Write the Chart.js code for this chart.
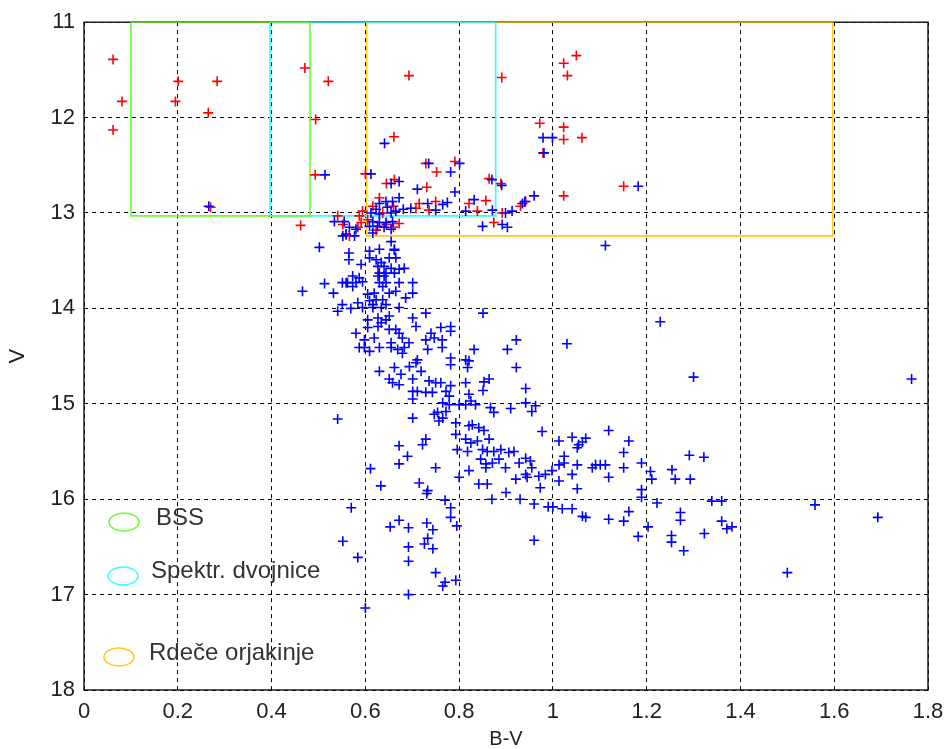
<!DOCTYPE html>
<html>
<head>
<meta charset="utf-8">
<script src="https://cdn.jsdelivr.net/npm/chart.js@4.4.1/dist/chart.umd.min.js"></script>
<style>
  body { margin: 0; background: #fff; }
  #cmd { display: block; }
</style>
</head>
<body>
<canvas id="cmd" width="946" height="749"></canvas>
<script>
var xTickLabels = ["0", "0.2", "0.4", "0.6", "0.8", "1", "1.2", "1.4", "1.6", "1.8"];
var yTickLabels = ["11", "12", "13", "14", "15", "16", "17", "18"];

// selected region boxes: [B-V from, B-V to, V top, V bottom]
var bssBox = [0.1, 0.482, 11, 13.03];
var spektrBox = [0.397, 0.878, 11, 13.03];
var giantBox = [0.603, 1.597, 11, 13.24];

var legendLabels = ["BSS", "Spektr. dvojnice", "Rdeče orjakinje"];
var legendColors = ["#66ff33", "#33ffff", "#ffcc11"];

// red stars [B-V, V]
var redStars = [
  [0.062, 11.39], [0.081, 11.83], [0.062, 12.13], [0.201, 11.62], [0.195, 11.83], [0.284, 11.62],
  [0.265, 11.95], [0.27, 12.94], [0.471, 11.48], [0.521, 11.62], [0.494, 12.02], [0.493, 12.6],
  [0.462, 13.13], [0.661, 12.2], [0.693, 11.56], [0.891, 11.58], [1.023, 11.43], [1.05, 11.35],
  [1.031, 11.56], [0.972, 12.06], [1.023, 12.1], [1.023, 12.23], [1.062, 12.21], [0.979, 12.37],
  [1.151, 12.72], [1.023, 12.82], [0.729, 12.48], [0.752, 12.57], [0.791, 12.46], [0.731, 12.73],
  [0.645, 12.69], [0.6, 12.59], [0.864, 12.64], [0.889, 12.69], [0.857, 12.87], [0.821, 12.9],
  [0.839, 12.98], [0.892, 13.0], [0.931, 12.93], [0.874, 13.1], [0.715, 12.9], [0.75, 12.88],
  [0.736, 12.97], [0.708, 12.95], [0.63, 12.84], [0.66, 12.93], [0.616, 12.93], [0.637, 13.0],
  [0.672, 13.11], [0.66, 13.15], [0.623, 13.18], [0.605, 13.07], [0.594, 12.98], [0.552, 13.12],
  [0.566, 13.24], [0.591, 13.1], [0.584, 13.15], [0.587, 13.03], [0.559, 13.23], [0.541, 13.03],
  [0.662, 12.65], [0.645, 13.12], [0.942, 12.88]
];

// blue stars [B-V, V]
var blueStars = [
  [0.266, 12.93], [0.514, 12.6], [0.641, 12.27], [0.979, 12.21], [0.999, 12.21], [0.981, 12.37],
  [1.182, 12.72], [1.112, 13.34],
  [0.655, 12.69], [0.672, 12.67], [0.612, 12.59], [0.711, 12.75], [0.782, 12.57], [0.801, 12.48],
  [0.791, 12.78], [0.87, 12.65], [0.832, 12.86], [0.814, 12.98], [0.871, 12.97], [0.899, 13.0],
  [0.913, 12.98], [0.935, 12.9], [0.94, 12.88], [0.85, 13.14], [0.892, 13.12], [0.903, 13.15],
  [0.733, 12.9], [0.765, 12.91], [0.775, 12.89], [0.75, 12.97], [0.697, 12.95], [0.681, 12.96],
  [0.655, 13.3], [0.735, 12.48], [0.891, 12.71], [0.96, 12.82], [0.662, 13.39],
  [0.63, 12.9], [0.644, 12.88], [0.658, 12.88], [0.672, 12.84], [0.647, 12.94], [0.623, 12.96],
  [0.612, 13.0], [0.63, 13.01], [0.655, 13.0], [0.665, 12.98], [0.616, 13.09], [0.63, 13.1],
  [0.644, 13.1], [0.658, 13.09], [0.609, 13.14], [0.626, 13.14], [0.64, 13.15], [0.655, 13.17],
  [0.616, 13.21], [0.534, 13.09], [0.555, 13.09], [0.566, 13.15], [0.58, 13.17], [0.559, 13.22],
  [0.577, 13.24], [0.552, 13.24],
  [0.502, 13.36], [0.513, 13.74], [0.466, 13.82], [0.532, 13.84], [0.541, 14.03], [0.551, 13.96],
  [0.551, 13.73], [0.559, 13.73],
  [0.565, 13.42], [0.609, 13.4], [0.63, 13.38], [0.662, 13.38], [0.565, 13.49], [0.609, 13.47],
  [0.623, 13.49], [0.634, 13.52], [0.651, 13.47], [0.665, 13.47], [0.591, 13.54], [0.627, 13.56],
  [0.64, 13.56], [0.655, 13.58], [0.672, 13.59], [0.683, 13.58], [0.63, 13.63], [0.644, 13.63],
  [0.662, 13.63], [0.573, 13.66], [0.587, 13.68], [0.627, 13.66], [0.64, 13.66], [0.562, 13.73],
  [0.58, 13.73], [0.594, 13.72], [0.63, 13.73], [0.644, 13.73], [0.672, 13.73], [0.701, 13.73],
  [0.637, 13.77], [0.573, 13.77], [0.605, 13.85], [0.619, 13.84], [0.651, 13.84], [0.665, 13.82],
  [0.701, 13.84], [0.686, 13.89], [0.609, 13.92], [0.623, 13.91], [0.637, 13.91], [0.644, 13.96],
  [0.616, 13.96], [0.584, 13.94], [0.594, 13.99], [0.616, 13.99], [0.634, 13.99], [0.672, 13.99],
  [0.729, 14.05], [0.569, 14.0], [0.605, 14.12], [0.627, 14.1], [0.644, 14.12], [0.651, 14.08],
  [0.634, 14.15], [0.701, 14.1], [0.761, 14.2], [0.782, 14.19], [0.605, 14.2], [0.627, 14.19],
  [0.651, 14.22], [0.665, 14.22], [0.58, 14.26], [0.672, 14.26], [0.708, 14.19], [0.74, 14.26],
  [0.747, 14.31], [0.764, 14.33], [0.782, 14.24], [0.598, 14.33], [0.619, 14.31], [0.679, 14.31],
  [0.693, 14.36], [0.729, 14.33], [0.655, 14.36], [0.587, 14.41], [0.598, 14.41], [0.609, 14.45],
  [0.63, 14.41], [0.655, 14.41], [0.669, 14.43], [0.683, 14.41], [0.679, 14.47], [0.733, 14.43],
  [0.764, 14.41], [0.832, 14.43], [0.711, 14.54], [0.782, 14.52], [0.814, 14.54],
  [0.782, 14.59], [0.818, 14.62], [0.694, 14.61], [0.708, 14.57], [0.719, 14.66], [0.662, 14.62],
  [0.676, 14.69], [0.821, 14.55], [0.651, 14.74], [0.658, 14.78], [0.672, 14.8], [0.701, 14.74],
  [0.736, 14.76], [0.75, 14.78], [0.761, 14.78], [0.782, 14.81], [0.814, 14.78], [0.63, 14.66],
  [0.701, 14.87], [0.711, 14.87], [0.729, 14.88], [0.743, 14.88], [0.772, 14.87], [0.779, 14.92],
  [0.821, 14.9], [0.825, 14.97], [0.701, 14.95], [0.765, 14.99], [0.779, 15.01], [0.8, 15.01],
  [0.814, 15.01], [0.835, 15.01], [0.867, 15.04], [0.874, 15.09], [0.942, 14.99], [0.963, 15.02],
  [0.955, 15.08], [0.747, 15.11], [0.754, 15.09], [0.765, 15.15], [0.757, 15.18], [0.772, 15.08],
  [0.701, 15.15], [0.793, 15.2], [0.821, 15.23], [0.828, 15.22], [0.842, 15.25], [0.853, 15.28],
  [0.977, 15.29], [0.793, 15.32], [0.814, 15.37], [0.825, 15.41], [0.839, 15.39], [0.864, 15.37],
  [0.818, 15.5], [0.85, 15.48], [0.86, 15.5], [0.874, 15.5], [0.889, 15.48], [0.906, 15.51],
  [0.917, 15.5], [0.729, 15.37], [0.722, 15.43], [0.672, 15.44], [0.69, 15.55], [0.796, 15.48],
  [0.846, 15.58], [0.857, 15.63], [0.871, 15.62], [0.885, 15.58], [0.899, 15.67], [0.857, 15.67],
  [0.928, 15.62], [0.942, 15.57], [0.952, 15.6], [0.955, 15.67], [0.942, 15.74], [0.984, 15.74],
  [0.998, 15.7], [0.672, 15.63], [0.75, 15.67], [0.821, 15.7], [0.8, 15.77], [0.921, 15.79],
  [0.945, 15.77], [0.97, 15.76], [0.715, 15.83], [0.633, 15.86], [0.842, 15.84], [0.86, 15.84],
  [0.973, 15.88], [0.733, 15.91],
  [0.541, 15.16], [0.611, 15.68], [0.57, 16.09], [0.552, 16.44], [0.584, 16.61], [0.731, 15.94],
  [0.77, 16.01], [0.782, 16.09], [0.782, 16.19], [0.795, 16.28], [0.672, 16.22], [0.653, 16.29],
  [0.692, 16.3], [0.731, 16.25], [0.744, 16.32], [0.733, 16.41], [0.726, 16.47], [0.744, 16.52],
  [0.692, 16.5], [0.692, 16.65], [0.75, 16.77], [0.77, 16.87], [0.765, 16.91], [0.793, 16.85],
  [0.692, 17.0], [0.6, 17.14],
  [0.9, 15.93], [0.93, 16.0], [0.96, 16.05], [0.99, 16.08], [1.0, 16.08], [0.96, 16.43], [0.87, 16.0],
  [1.119, 15.28], [1.041, 15.35], [1.07, 15.36], [1.055, 15.43], [1.063, 15.4], [1.052, 15.46],
  [1.013, 15.39], [1.162, 15.39], [1.151, 15.51], [1.024, 15.55], [1.024, 15.62], [1.013, 15.64],
  [1.052, 15.64], [1.084, 15.67], [1.091, 15.64], [1.101, 15.64], [1.112, 15.64], [1.151, 15.67],
  [1.189, 15.62], [1.041, 15.74], [1.119, 15.77], [1.013, 15.81], [1.052, 15.89], [1.208, 15.71],
  [1.211, 15.79], [1.254, 15.69], [1.261, 15.79], [1.293, 15.79], [1.291, 15.54], [1.322, 15.56],
  [1.189, 15.9], [1.189, 15.98], [1.222, 16.04], [1.339, 16.02], [1.36, 16.02], [1.02, 16.1],
  [1.041, 16.1], [1.063, 16.18], [1.07, 16.19], [1.119, 16.21], [1.151, 16.23], [1.162, 16.13],
  [1.203, 16.29], [1.272, 16.14], [1.272, 16.22], [1.36, 16.23], [1.371, 16.31], [1.382, 16.29],
  [1.182, 16.39], [1.253, 16.38], [1.253, 16.45], [1.323, 16.36], [1.279, 16.54],
  [1.765, 14.74], [1.559, 16.06], [1.693, 16.19], [1.5, 16.77],
  [1.229, 14.14], [1.3, 14.72], [1.03, 14.37], [0.922, 14.33], [0.903, 14.43], [0.922, 14.62],
  [0.942, 14.84], [0.864, 14.74], [0.853, 14.77], [0.851, 14.86], [0.851, 14.05], [0.91, 15.05]
];

function toPoints(list) {
    var pts = [];
    for (var i = 0; i < list.length; i++)
        pts.push({ x: list[i][0], y: list[i][1] });
    return pts;
}

function boxPath(b) {
    return [
        { x: b[0], y: b[2] }, { x: b[1], y: b[2] }, { x: b[1], y: b[3] },
        { x: b[0], y: b[3] }, { x: b[0], y: b[2] }
    ];
}

function boxSet(b, color) {
    return {
        data: boxPath(b),
        showLine: true,
        borderColor: color,
        borderWidth: 1.6,
        pointRadius: 0,
        fill: false
    };
}

function starSet(list, color) {
    return {
        data: toPoints(list),
        pointStyle: "cross",
        pointRadius: 5,
        borderColor: color,
        backgroundColor: color,
        pointBorderWidth: 1.6,
        showLine: false
    };
}

// look a tick label up by its value
function labelFor(labels, first, step, v) {
    var i = Math.round((v - first) / step);
    return labels[i] !== undefined ? labels[i] : "";
}

// solid frame around plot area
var framePlugin = {
    id: "frame",
    beforeDatasetsDraw: function (chart) {
        var a = chart.chartArea, ctx = chart.ctx;
        ctx.save();
        ctx.strokeStyle = "#111";
        ctx.lineWidth = 1.4;
        ctx.strokeRect(a.left, a.top, a.right - a.left, a.bottom - a.top);
        ctx.restore();
    }
};

// ellipse legend in lower left corner
var legendPlugin = {
    id: "ellipseLegend",
    afterDatasetsDraw: function (chart) {
        var a = chart.chartArea, ctx = chart.ctx;
        var rows = [
            { ex: 40, ey: -168, tx: 72, ty: -172 },
            { ex: 39, ey: -114, tx: 67, ty: -119 },
            { ex: 35, ey: -33, tx: 65, ty: -37 }
        ];
        ctx.save();
        for (var i = 0; i < rows.length; i++) {
            var r = rows[i];
            ctx.beginPath();
            ctx.ellipse(a.left + r.ex, a.bottom + r.ey, 15, 9, 0, 0, Math.PI * 2);
            ctx.strokeStyle = legendColors[i];
            ctx.lineWidth = 1.5;
            ctx.stroke();
            ctx.fillStyle = "#333";
            ctx.font = "24px 'Liberation Sans', Arial, sans-serif";
            ctx.textBaseline = "middle";
            ctx.textAlign = "left";
            ctx.fillText(legendLabels[i], a.left + r.tx, a.bottom + r.ty);
        }
        ctx.restore();
    }
};

var tickFont = { family: "'Liberation Sans', Arial, sans-serif", size: 22 };

chart = new Chart("cmd", {
    type: "scatter",
    data: {
        datasets: [
            starSet(blueStars, "#0000ff"),
            starSet(redStars, "#ff0000"),
            boxSet(bssBox, legendColors[0]),
            boxSet(spektrBox, legendColors[1]),
            boxSet(giantBox, legendColors[2])
        ]
    },
    options: {
        responsive: false,
        animation: false,
        events: [],
        layout: { padding: { top: 19, right: 18, left: 0, bottom: 0 } },
        plugins: {
            legend: { display: false },
            tooltip: { enabled: false }
        },
        scales: {
            x: {
                type: "linear",
                min: 0,
                max: 1.8,
                afterFit: function (s) {
                    s.height = 59;
                    s.paddingLeft = 0;
                    s.paddingRight = 0;
                },
                ticks: {
                    stepSize: 0.2,
                    color: "#222",
                    font: tickFont,
                    padding: 9,
                    maxRotation: 0,
                    callback: function (v) { return labelFor(xTickLabels, 0, 0.2, v); }
                },
                grid: { color: "#000", lineWidth: 1, drawTicks: false },
                border: { display: false, dash: [4, 4] },
                title: {
                    display: true,
                    text: "B-V",
                    color: "#222",
                    font: { family: "'Liberation Sans', Arial, sans-serif", size: 20, lineHeight: 1 },
                    padding: { top: 0, bottom: 0 }
                }
            },
            y: {
                type: "linear",
                reverse: true,
                min: 11,
                max: 18,
                afterFit: function (s) { s.width = 84; },
                ticks: {
                    stepSize: 1,
                    color: "#222",
                    font: tickFont,
                    padding: 9,
                    callback: function (v) { return labelFor(yTickLabels, 11, 1, v); }
                },
                grid: { color: "#000", lineWidth: 1, drawTicks: false },
                border: { display: false, dash: [4, 4] },
                title: {
                    display: true,
                    text: "V",
                    color: "#222",
                    font: { family: "'Liberation Sans', Arial, sans-serif", size: 22, lineHeight: 1 },
                    padding: { top: 7, bottom: 0 }
                }
            }
        }
    },
    plugins: [framePlugin, legendPlugin]
});
</script>
</body>
</html>
